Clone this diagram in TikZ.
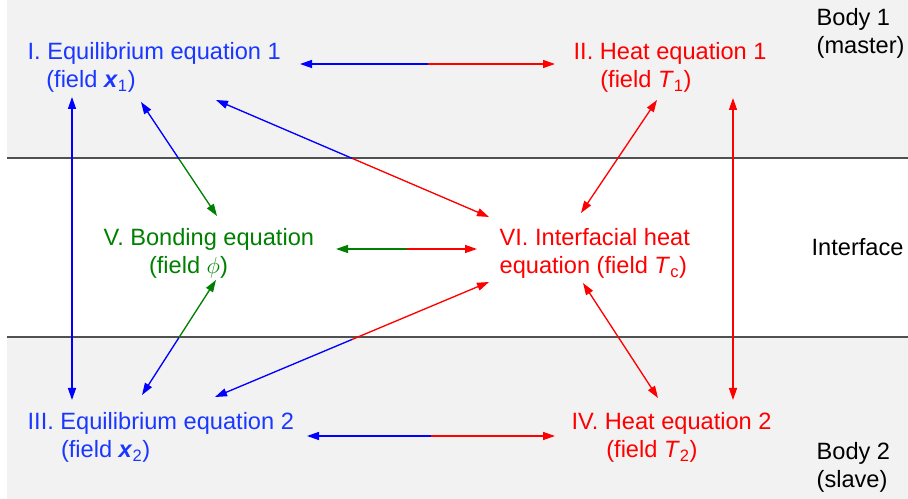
\documentclass[tikz,border=0pt]{standalone}
\usepackage{fontspec}
\setmainfont{Liberation Sans}
\usetikzlibrary{arrows.meta,calc}
\definecolor{bandgray}{RGB}{242,242,242}
\definecolor{linegray}{RGB}{80,80,80}
\definecolor{eqblue}{RGB}{25,55,255}
\definecolor{eqgreen}{RGB}{0,128,0}

% connector in two halves, one colour per end
\newcommand{\halfarrow}[4]{%
  \draw[#1,<-] (#3) -- ($(#3)!0.5!(#4)$);
  \draw[#2,->] ($(#3)!0.5!(#4)$) -- (#4);
}

\begin{document}
\begin{tikzpicture}[
  x=0.75pt, y=-0.75pt,
  every node/.style = {inner sep=0pt, anchor=north west, align=left,
    font=\fontsize{17.7}{21}\selectfont},
  >={Triangle[length=9pt,width=6pt]},
  line width=1pt
]
  \useasboundingbox (0,0) rectangle (908,499);
  % bands
  \fill[bandgray] (7,0) rectangle (908,158);
  \fill[bandgray] (7,337) rectangle (908,499);
  \draw[linegray, line width=1.5pt] (7,158) -- (908,158);
  \draw[linegray, line width=1.5pt] (7,337) -- (908,337);

  % equations
  \node[text=eqblue] (eqI) at (27,42)
    {I. Equilibrium equation 1\\\hspace*{14pt}(field \textbf{\textit{x}}\textsubscript{1})};
  \node[text=red] (eqII) at (573,42)
    {II. Heat equation 1\\\hspace*{20pt}(field \textit{T}\textsubscript{1})};
  \node[text=eqgreen] (eqV) at (103,228)
    {V. Bonding equation\\\hspace*{34pt}(field $\phi$)};
  \node[text=red] (eqVI) at (499,228)
    {VI. Interfacial heat\\equation (field \textit{T}\textsubscript{c})};
  \node[text=eqblue] (eqIII) at (27,412)
    {III. Equilibrium equation 2\\\hspace*{25pt}(field \textbf{\textit{x}}\textsubscript{2})};
  \node[text=red] (eqIV) at (571,412)
    {IV. Heat equation 2\\\hspace*{26pt}(field \textit{T}\textsubscript{2})};

  % regions
  \node (body1) at (816,8) {Body 1\\(master)};
  \node (iface) at (811,238) {Interface};
  \node (body2) at (816,442) {Body 2\\(slave)};

  % arrow ends
  \coordinate (I-e)   at (300,64);
  \coordinate (I-s)   at (72,97);
  \coordinate (I-sV)  at (141,102);
  \coordinate (I-sVI) at (216,100);
  \coordinate (II-w)  at (555,64);
  \coordinate (II-s)  at (733,98);
  \coordinate (II-sVI) at (657,100);
  \coordinate (V-n)   at (217,216);
  \coordinate (V-s)   at (216,280);
  \coordinate (V-e)   at (336,249);
  \coordinate (VI-w)  at (477,249);
  \coordinate (VI-nw) at (489,217);
  \coordinate (VI-sw) at (489,282);
  \coordinate (VI-ne) at (581,213);
  \coordinate (VI-se) at (583,283);
  \coordinate (III-n)  at (72,400);
  \coordinate (III-nV) at (142,395);
  \coordinate (III-nVI) at (215,397);
  \coordinate (III-e)  at (307,436);
  \coordinate (IV-w)  at (555,436);
  \coordinate (IV-n)  at (733,400);
  \coordinate (IV-nVI) at (658,398);

  % connectors
  \halfarrow{blue}{red}{I-e}{II-w}
  \halfarrow{eqgreen}{red}{V-e}{VI-w}
  \halfarrow{blue}{red}{III-e}{IV-w}
  \halfarrow{blue}{eqgreen}{I-sV}{V-n}
  \halfarrow{blue}{red}{I-sVI}{VI-nw}
  \halfarrow{blue}{eqgreen}{III-nV}{V-s}
  \halfarrow{blue}{red}{III-nVI}{VI-sw}
  \draw[blue,<->] (I-s) -- (III-n);
  \draw[red,<->] (II-s) -- (IV-n);
  \draw[red,<->] (II-sVI) -- (VI-ne);
  \draw[red,<->] (IV-nVI) -- (VI-se);
\end{tikzpicture}
\end{document}
